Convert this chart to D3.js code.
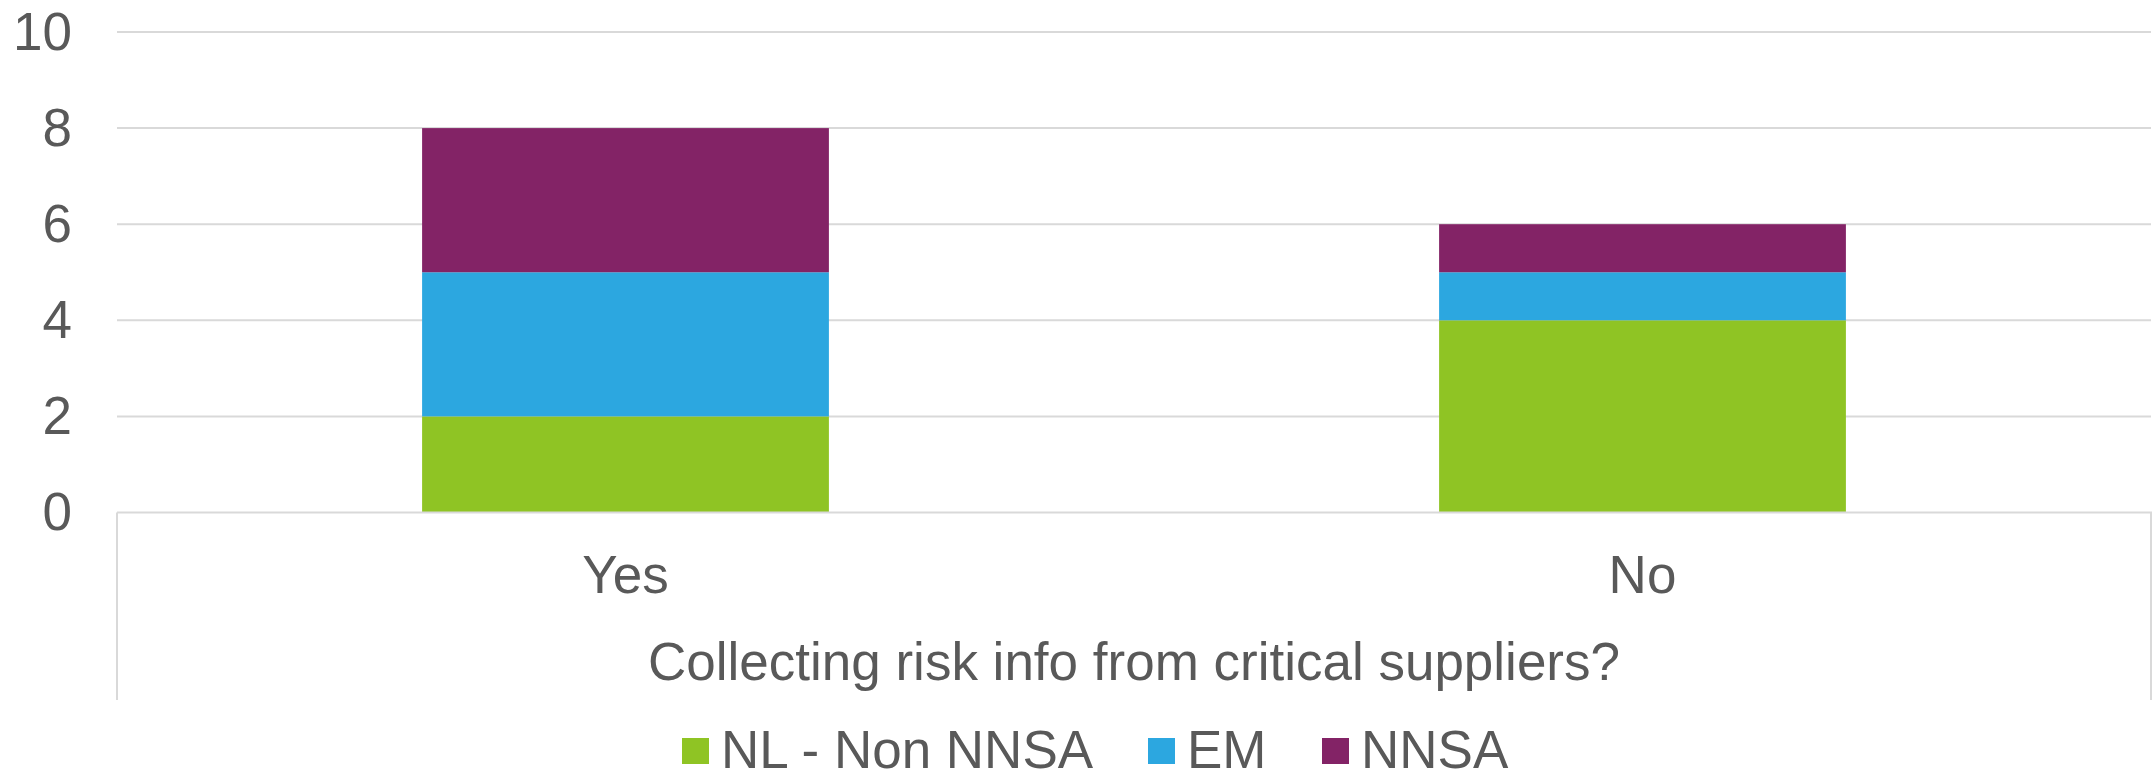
<!DOCTYPE html>
<html>
<head>
<meta charset="utf-8">
<script src="https://cdn.jsdelivr.net/npm/d3@7"></script>
<style>
  html, body { margin: 0; padding: 0; background: #fff; }
  svg { display: block; }
  text { font-family: "Liberation Sans", Arial, sans-serif; fill: #595959; }
</style>
</head>
<body>
<svg id="chart" width="2153" height="773"></svg>
<script>
// Stacked counts by answer and organisation group
const categories = ["Yes", "No"];
const seriesNames = ["NL - Non NNSA", "EM", "NNSA"];
const nlNonNnsa = [2, 4];
const em = [3, 1];
const nnsa = [3, 1];
const yTicks = [0, 2, 4, 6, 8, 10];
const axisTitle = "Collecting risk info from critical suppliers?";
const colors = ["#8fc424", "#2ca7e0", "#832366"];

const svg = d3.select("#chart");
const plotLeft = 117, plotRight = 2151, plotTop = 32, plotBottom = 512.5;
const fontSize = 53;

const rows = categories.map((c, i) => ({
  cat: c,
  "NL - Non NNSA": nlNonNnsa[i],
  "EM": em[i],
  "NNSA": nnsa[i]
}));
const stacked = d3.stack().keys(seriesNames)(rows);

const x = d3.scaleBand().domain(categories).range([plotLeft, plotRight])
  .paddingInner(0.6).paddingOuter(0.3);
const y = d3.scaleLinear().domain([0, 10]).range([plotBottom, plotTop]);

// Horizontal gridlines
svg.append("g").selectAll("line").data(yTicks.filter(t => t > 0)).join("line")
  .attr("x1", plotLeft).attr("x2", plotRight)
  .attr("y1", d => y(d)).attr("y2", d => y(d))
  .attr("stroke", "#d9d9d9").attr("stroke-width", 2);

// Y tick labels
svg.append("g").selectAll("text").data(yTicks).join("text")
  .attr("x", 72).attr("y", d => y(d) + 17.5)
  .attr("text-anchor", "end")
  .attr("font-size", fontSize)
  .text(d => d);

// Stacked bars
svg.append("g").selectAll("g").data(stacked).join("g")
  .attr("fill", (d, i) => colors[i])
  .selectAll("rect").data(d => d).join("rect")
  .attr("x", d => x(d.data.cat))
  .attr("width", x.bandwidth())
  .attr("y", d => y(d[1]))
  .attr("height", d => y(d[0]) - y(d[1]));

// Category axis: baseline and group dividers
const axisG = svg.append("g").attr("stroke", "#d9d9d9").attr("stroke-width", 2);
axisG.append("line").attr("x1", plotLeft).attr("x2", plotRight + 1)
  .attr("y1", plotBottom).attr("y2", plotBottom);
axisG.selectAll("line.div").data([plotLeft, plotRight]).join("line")
  .attr("class", "div")
  .attr("x1", d => d).attr("x2", d => d)
  .attr("y1", plotBottom).attr("y2", 700);

// Category labels
svg.append("g").selectAll("text").data(categories).join("text")
  .attr("x", d => x(d) + x.bandwidth() / 2)
  .attr("y", 593)
  .attr("text-anchor", "middle")
  .attr("font-size", fontSize)
  .text(d => d);

// Group title under the categories
svg.append("text")
  .attr("x", (plotLeft + plotRight) / 2).attr("y", 680)
  .attr("text-anchor", "middle")
  .attr("font-size", fontSize)
  .text(axisTitle);

// Legend
const legendX = [682, 1148, 1322];
const legend = svg.append("g").selectAll("g").data(seriesNames).join("g")
  .attr("transform", (d, i) => `translate(${legendX[i]},0)`);
legend.append("rect")
  .attr("x", 0).attr("y", 738).attr("width", 27).attr("height", 26)
  .attr("fill", (d, i) => colors[i]);
legend.append("text")
  .attr("x", 39).attr("y", 768)
  .attr("font-size", fontSize)
  .text(d => d);
</script>
</body>
</html>
